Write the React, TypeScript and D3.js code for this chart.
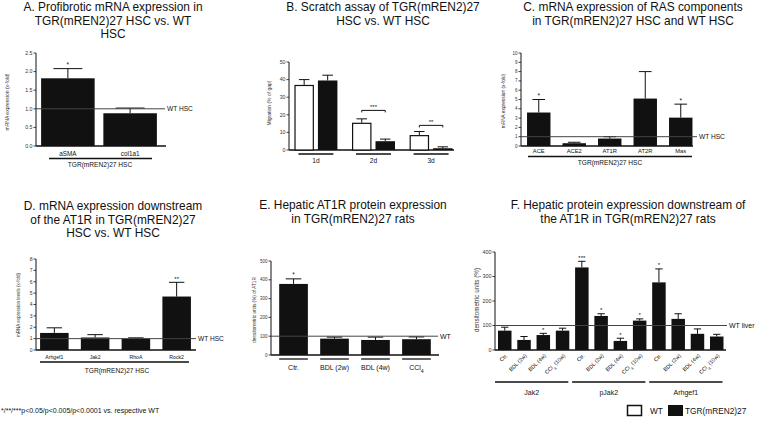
import React from "react";
import * as d3 from "d3";

// ---------- DATA ----------
const aCategories = ["aSMA", "col1a1"];
const aValues = [1.82, 0.88];
const aSem = [0.26, 0.14];
const aSig = ["*", ""];
const aTicks = [0, 0.5, 1, 1.5, 2, 2.5];

const bCategories = ["1d", "2d", "3d"];
const bWT = [37, 15.5, 8.5];
const bWTSem = [3, 2.2, 2];
const bTGR = [39.5, 5, 1];
const bTGRSem = [3, 1.2, 0.8];
const bBrackets = ["", "***", "**"];
const bBracketLevel = [0, 22.5, 14];
const bTicks = [0, 10, 20, 30, 40, 50];

const cCategories = ["ACE", "ACE2", "AT1R", "AT2R", "Mas"];
const cValues = [3.6, 0.3, 0.8, 5.1, 3.05];
const cSem = [1.4, 0.1, 0.2, 2.9, 1.45];
const cSig = ["*", "", "", "", "*"];
const cTicks = [0, 1, 2, 3, 4, 5, 6, 7, 8, 9, 10];

const dCategories = ["Arhgef1", "Jak2", "RhoA", "Rock2"];
const dValues = [1.5, 1.1, 1.0, 4.7];
const dSem = [0.45, 0.25, 0.07, 1.25];
const dSig = ["", "", "", "**"];
const dTicks = [0, 1, 2, 3, 4, 5, 6, 7, 8];

const eCategories = ["Ctr.", "BDL (2w)", "BDL (4w)", "CCl|4"];
const eValues = [378, 87, 80, 84];
const eSem = [27, 8, 15, 12];
const eSig = ["*", "", "", ""];
const eTicks = [0, 100, 200, 300, 400, 500];

const fGroups = ["Jak2", "pJak2", "Arhgef1"];
const fConditions = ["Ctr.", "BDL (2w)", "BDL (4w)", "CCl|4| (10w)"];
const fJak2 = [79, 41, 61, 79];
const fJak2Sem = [14, 14, 7, 10];
const fJak2Sig = ["", "", "*", ""];
const fPJak2 = [337, 139, 37, 120];
const fPJak2Sem = [25, 9, 11, 7];
const fPJak2Sig = ["***", "*", "*", "*"];
const fArhgef1 = [276, 127, 66, 55];
const fArhgef1Sem = [55, 21, 20, 9];
const fArhgef1Sig = ["*", "", "", ""];
const fTicks = [0, 100, 200, 300, 400];

const FONT = "'Liberation Sans', Arial, sans-serif";
const INK = "#111";
const GRAY = "#333";

// text with optional subscript marked by |x|
function SubText({ s, ...props }: any) {
  const parts = s.split("|");
  return (
    <text {...props}>
      {parts.map((p: string, i: number) =>
        i % 2 === 1 ? (
          <tspan key={i} baselineShift="sub" fontSize="75%">{p}</tspan>
        ) : (
          <tspan key={i}>{p}</tspan>
        )
      )}
    </text>
  );
}

function Title({ lines, x, y }: { lines: string[]; x: number; y: number }) {
  return (
    <text x={x} y={y} textAnchor="middle" fontSize={11.9} fill={INK} fontFamily={FONT}>
      {lines.map((l, i) => (
        <tspan key={i} x={x} dy={i === 0 ? 0 : 13.7}>{l}</tspan>
      ))}
    </text>
  );
}

function YAxis({ y, x, ticks, fmt, fs, x2 }: any) {
  const [r0, r1] = y.range();
  return (
    <g fontFamily={FONT}>
      <line x1={x} x2={x} y1={r0} y2={r1} stroke={INK} strokeWidth={1} />
      <line x1={x} x2={x2} y1={r0} y2={r0} stroke={INK} strokeWidth={1.4} />
      {ticks.map((t: number) => (
        <g key={t}>
          <line x1={x - 2.5} x2={x} y1={y(t)} y2={y(t)} stroke={INK} strokeWidth={0.8} />
          <text x={x - 3.5} y={y(t)} dy="0.35em" textAnchor="end" fontSize={fs} fill={GRAY}>
            {fmt(t)}
          </text>
        </g>
      ))}
    </g>
  );
}

function YLabel({ x, y, text, fs }: any) {
  return (
    <text transform={`translate(${x},${y}) rotate(-90)`} textAnchor="middle" fontSize={fs} fill={GRAY} fontFamily={FONT}>
      {text}
    </text>
  );
}

function Bar({ x, w, y, v, sem, sig, fill, sigFs }: any) {
  const y0 = y(0);
  const yt = y(v);
  const ye = y(v + sem);
  const cx = x + w / 2;
  const cap = w * 0.27;
  return (
    <g>
      <line x1={cx} x2={cx} y1={yt} y2={ye} stroke={INK} strokeWidth={1} />
      <line x1={cx - cap} x2={cx + cap} y1={ye} y2={ye} stroke={INK} strokeWidth={1} />
      <rect
        x={fill === "white" ? x + 0.6 : x}
        y={fill === "white" ? yt + 0.6 : yt}
        width={fill === "white" ? w - 1.2 : w}
        height={fill === "white" ? y0 - yt - 0.6 : y0 - yt}
        fill={fill}
        stroke={INK}
        strokeWidth={fill === "white" ? 1.2 : 0}
      />
      {sig ? (
        <text x={cx} y={ye - 1.5} textAnchor="middle" fontSize={sigFs || 6.5} fill={INK} fontFamily={FONT}>
          {sig}
        </text>
      ) : null}
    </g>
  );
}

function RefLine({ y, v, x1, x2, label, fs }: any) {
  return (
    <g>
      <line x1={x1} x2={x2} y1={y(v)} y2={y(v)} stroke="#444" strokeWidth={1} />
      <text x={x2 + 2} y={y(v)} dy="0.35em" fontSize={fs} fill={INK} fontFamily={FONT}>{label}</text>
    </g>
  );
}

function PanelA() {
  const y = d3.scaleLinear().domain([0, 2.5]).range([146, 53]);
  const x = d3.scaleBand().domain(aCategories).range([38, 160]).paddingInner(0.14).paddingOuter(0.05);
  return (
    <g>
      <Title lines={["A. Profibrotic mRNA expression in", "TGR(mREN2)27 HSC vs. WT", "HSC"]} x={113} y={11} />
      <YLabel x={9} y={102} text="mRNA expression (x-fold)" fs={5} />
      <YAxis y={y} x={36} x2={166} ticks={aTicks} fmt={d3.format(".1f")} fs={5.2} />
      {aCategories.map((c, i) => (
        <Bar key={c} x={x(c)} w={x.bandwidth()} y={y} v={aValues[i]} sem={aSem[i]} sig={aSig[i]} fill={INK} />
      ))}
      <RefLine y={y} v={1} x1={36} x2={165} label="WT HSC" fs={6.6} />
      {aCategories.map((c) => (
        <text key={c} x={x(c)! + x.bandwidth() / 2} y={155.5} textAnchor="middle" fontSize={6.3} fill={INK} fontFamily={FONT}>{c}</text>
      ))}
      <line x1={49} x2={152} y1={158.5} y2={158.5} stroke={INK} strokeWidth={1.3} />
      <text x={100} y={166.5} textAnchor="middle" fontSize={6.6} fill={INK} fontFamily={FONT}>TGR(mREN2)27 HSC</text>
    </g>
  );
}

function PanelB() {
  const y = d3.scaleLinear().domain([0, 50]).range([150, 62]);
  const x = d3.scaleBand().domain(bCategories).range([290, 457]).paddingInner(0.1).paddingOuter(0.0);
  const bw = 19.5;
  const gap = 4;
  return (
    <g>
      <Title lines={["B. Scratch assay of TGR(mREN2)27", "HSC vs. WT HSC"]} x={383} y={11} />
      <YLabel x={271} y={103} text="Migration (% of gap)" fs={5} />
      <YAxis y={y} x={289} x2={454} ticks={bTicks} fmt={d3.format("d")} fs={5.2} />
      {bCategories.map((c, i) => {
        const cx = x(c)! + x.bandwidth() / 2;
        const x1 = cx - gap / 2 - bw;
        const x2 = cx + gap / 2;
        return (
          <g key={c}>
            <Bar x={x1} w={bw} y={y} v={bWT[i]} sem={bWTSem[i]} fill="white" />
            <Bar x={x2} w={bw} y={y} v={bTGR[i]} sem={bTGRSem[i]} fill={INK} />
            <line x1={cx - 17.5} x2={cx + 17.5} y1={154} y2={154} stroke={INK} strokeWidth={1.3} />
            <text x={cx} y={162.5} textAnchor="middle" fontSize={6.6} fill={INK} fontFamily={FONT}>{c}</text>
            {bBrackets[i] ? (
              <g>
                <path
                  d={`M${x1 + bw / 2},${y(bBracketLevel[i]) + 2}V${y(bBracketLevel[i])}H${x2 + bw / 2}V${y(bBracketLevel[i]) + 2}`}
                  fill="none"
                  stroke={INK}
                  strokeWidth={1}
                />
                <text x={cx} y={y(bBracketLevel[i]) - 1.2} textAnchor="middle" fontSize={6} fill={INK} fontFamily={FONT}>{bBrackets[i]}</text>
              </g>
            ) : null}
          </g>
        );
      })}
    </g>
  );
}

function PanelC() {
  const y = d3.scaleLinear().domain([0, 10]).range([146, 53]);
  const x = d3.scaleBand().domain(cCategories).range([521, 698.5]).paddingInner(0.34).paddingOuter(0.17);
  return (
    <g>
      <Title lines={["C. mRNA expression of RAS components", "in TGR(mREN2)27 HSC and WT HSC"]} x={633} y={11} />
      <YLabel x={505} y={101} text="mRNA expression (x-fold)" fs={4.8} />
      <YAxis y={y} x={521} x2={693} ticks={cTicks} fmt={d3.format("d")} fs={4.5} />
      {cCategories.map((c, i) => (
        <Bar key={c} x={x(c)} w={x.bandwidth()} y={y} v={cValues[i]} sem={cSem[i]} sig={cSig[i]} fill={INK} />
      ))}
      <RefLine y={y} v={1} x1={521} x2={697} label="WT HSC" fs={6.6} />
      {cCategories.map((c) => (
        <text key={c} x={x(c)! + x.bandwidth() / 2} y={153} textAnchor="middle" fontSize={5.8} fill={INK} fontFamily={FONT}>{c}</text>
      ))}
      <line x1={528} x2={692} y1={156.5} y2={156.5} stroke={INK} strokeWidth={1.3} />
      <text x={610} y={165} textAnchor="middle" fontSize={6.6} fill={INK} fontFamily={FONT}>TGR(mREN2)27 HSC</text>
    </g>
  );
}

function PanelD() {
  const y = d3.scaleLinear().domain([0, 8]).range([350, 259]);
  const x = d3.scaleBand().domain(dCategories).range([36, 195]).paddingInner(0.3).paddingOuter(0.1);
  return (
    <g>
      <Title lines={["D. mRNA expression downstream", "of the AT1R in TGR(mREN2)27", "HSC vs. WT HSC"]} x={113} y={210} />
      <YLabel x={20} y={305} text="mRNA expression levels (x-fold)" fs={4.5} />
      <YAxis y={y} x={36} x2={196} ticks={dTicks} fmt={d3.format("d")} fs={5} />
      {dCategories.map((c, i) => (
        <Bar key={c} x={x(c)} w={x.bandwidth()} y={y} v={dValues[i]} sem={dSem[i]} sig={dSig[i]} fill={INK} sigFs={6} />
      ))}
      <RefLine y={y} v={1} x1={36} x2={196} label="WT HSC" fs={6.6} />
      {dCategories.map((c) => (
        <text key={c} x={x(c)! + x.bandwidth() / 2} y={358.5} textAnchor="middle" fontSize={5.2} fill={INK} fontFamily={FONT}>{c}</text>
      ))}
      <line x1={40} x2={189} y1={362} y2={362} stroke={INK} strokeWidth={1.3} />
      <text x={117} y={373} textAnchor="middle" fontSize={6.6} fill={INK} fontFamily={FONT}>TGR(mREN2)27 HSC</text>
    </g>
  );
}

function PanelE() {
  const y = d3.scaleLinear().domain([0, 500]).range([355, 261]);
  const x = d3.scaleBand().domain(eCategories).range([271, 439]).paddingInner(0.3).paddingOuter(0.2);
  return (
    <g>
      <Title lines={["E. Hepatic AT1R protein expression", "in TGR(mREN2)27 rats"]} x={353} y={209} />
      <YLabel x={256} y={310} text="densitometric units (%) of AT1R" fs={4.7} />
      <YAxis y={y} x={271} x2={439} ticks={eTicks} fmt={d3.format("d")} fs={4.5} />
      {eCategories.map((c, i) => (
        <Bar key={c} x={x(c)} w={x.bandwidth()} y={y} v={eValues[i]} sem={eSem[i]} sig={eSig[i]} fill={INK} />
      ))}
      <RefLine y={y} v={100} x1={271} x2={438} label="WT" fs={7} />
      {eCategories.map((c) => (
        <g key={c}>
          <line x1={x(c)} x2={x(c)! + x.bandwidth()} y1={359} y2={359} stroke={INK} strokeWidth={1.3} />
          <SubText s={c} x={x(c)! + x.bandwidth() / 2} y={370} textAnchor="middle" fontSize={7} fill={INK} fontFamily={FONT} />
        </g>
      ))}
    </g>
  );
}

function PanelF() {
  const y = d3.scaleLinear().domain([0, 400]).range([350, 252]);
  const keys: string[] = [];
  fGroups.forEach((g) => fConditions.forEach((c) => keys.push(g + "|" + c)));
  const x = d3.scaleBand().domain(keys).range([495.5, 726]).paddingInner(0.3).paddingOuter(0.13);
  const vals = [fJak2, fPJak2, fArhgef1];
  const sems = [fJak2Sem, fPJak2Sem, fArhgef1Sem];
  const sigs = [fJak2Sig, fPJak2Sig, fArhgef1Sig];
  return (
    <g>
      <Title lines={["F. Hepatic protein expression downstream of", "the AT1R in TGR(mREN2)27 rats"]} x={628} y={209} />
      <YLabel x={479} y={300} text="densitometric units (%)" fs={6.3} />
      <YAxis y={y} x={495} x2={726} ticks={fTicks} fmt={d3.format("d")} fs={5.4} />
      {fGroups.map((g, gi) =>
        fConditions.map((c, ci) => {
          const k = g + "|" + c;
          return (
            <Bar key={k} x={x(k)} w={x.bandwidth()} y={y} v={vals[gi][ci]} sem={sems[gi][ci]} sig={sigs[gi][ci]} fill={INK} sigFs={6} />
          );
        })
      )}
      <RefLine y={y} v={100} x1={495} x2={727} label="WT liver" fs={7} />
      {fGroups.map((g, gi) => {
        const first = x(g + "|" + fConditions[0])!;
        const last = x(g + "|" + fConditions[fConditions.length - 1])! + x.bandwidth();
        return (
          <g key={g}>
            {fConditions.map((c) => {
              const k = g + "|" + c;
              const cx = x(k)! + x.bandwidth() / 2 + 3;
              return (
                <SubText key={k} s={c} transform={`translate(${cx},${356}) rotate(-45)`} textAnchor="end" fontSize={5.4} fill={INK} fontFamily={FONT} />
              );
            })}
            <line x1={first - 3} x2={last - 1} y1={382} y2={382} stroke={INK} strokeWidth={1.3} />
            <text x={(first + last) / 2 - 2} y={394.5} textAnchor="middle" fontSize={7} fill={INK} fontFamily={FONT}>{g}</text>
          </g>
        );
      })}
    </g>
  );
}

function Legend() {
  return (
    <g fontFamily={FONT} fontSize={8.3} fill={INK}>
      <rect x={627.5} y={405.5} width={14} height={10} fill="white" stroke={INK} strokeWidth={1.5} />
      <text x={650} y={414}>WT</text>
      <rect x={668} y={405} width={15} height={11} fill={INK} />
      <text x={685} y={414}>TGR(mREN2)27</text>
    </g>
  );
}

export default function App() {
  return (
    <svg
      width={758}
      height={424}
      viewBox="0 0 758 424"
      style={{ position: "absolute", left: 0, top: 0, background: "white" }}
    >
      <rect width={758} height={424} fill="white" />
      <PanelA />
      <PanelB />
      <PanelC />
      <PanelD />
      <PanelE />
      <PanelF />
      <Legend />
      <text x={1} y={413} fontSize={7} fill={INK} fontFamily={FONT}>*/**/***p&lt;0.05/p&lt;0.005/p&lt;0.0001 vs. respective WT</text>
    </svg>
  );
}
